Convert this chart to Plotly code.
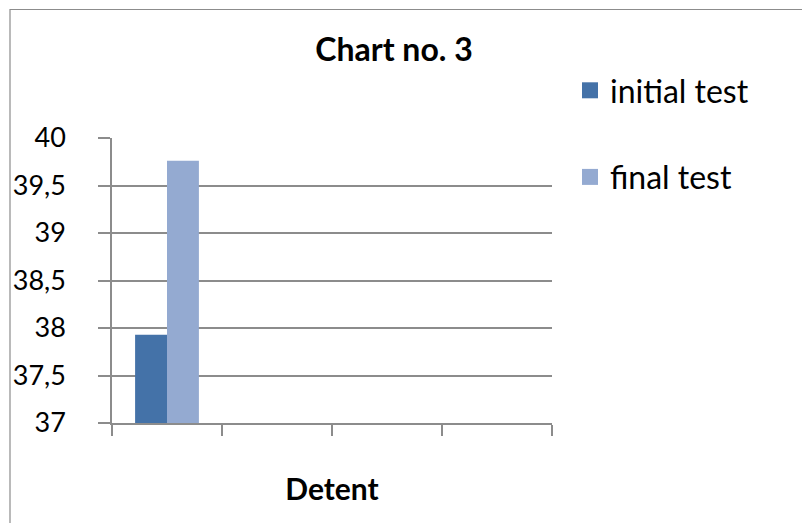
import plotly.graph_objects as go

categories = [1, 2, 3, 4]
series_names = ["initial test", "final test"]
initial_test = [37.93, None, None, None]
final_test = [39.76, None, None, None]
colors = ["#4472A8", "#94AAD1"]
y_ticks = [37, 37.5, 38, 38.5, 39, 39.5, 40]
x_tick_edges = [0.5, 1.5, 2.5, 3.5, 4.5]

FONT = "Lato, Calibri, sans-serif"
GRID = "#8C8C8C"

fig = go.Figure()
for name, vals, col in zip(series_names, [initial_test, final_test], colors):
    fig.add_trace(go.Bar(x=categories, y=vals, name=name, marker=dict(color=col, line=dict(width=0)),
                         showlegend=False))
# legend entries
for i, (name, col) in enumerate(zip(series_names, colors)):
    fig.add_trace(go.Scatter(x=[None], y=[None], mode="markers", name=name,
                             marker=dict(symbol="square", size=16, color=col),
                             legendgroup=f"g{i}", showlegend=True))

fig.update_layout(
    width=802, height=523,
    margin=dict(l=112, r=250, t=138, b=100),
    paper_bgcolor="white", plot_bgcolor="white",
    separators=",.",
    barmode="group", bargap=0.42, bargroupgap=0,
    font=dict(family=FONT, color="black"),
    title=dict(text="<b>Chart no. 3</b>", x=394/802, xanchor="center",
               y=1 - 50/523, yanchor="middle", yref="container",
               font=dict(size=32, family=FONT, color="black")),
    legend=dict(x=(570-112)/440, xanchor="left", y=(423-63)/285, yanchor="top",
                font=dict(size=32, family=FONT, color="black"),
                tracegroupgap=42, bgcolor="rgba(0,0,0,0)"),
    showlegend=True,
    shapes=[dict(type="rect", xref="paper", yref="paper",
                 x0=(10-112)/440, x1=(830-112)/440,
                 y0=(423-560)/285, y1=(423-9.5)/285,
                 line=dict(color="#8C8C8C", width=1.2), layer="below")],
)

fig.update_xaxes(
    range=[0.5, 4.5], tickmode="array", tickvals=x_tick_edges, showticklabels=False,
    ticks="outside", ticklen=11, tickcolor=GRID, tickwidth=1.5,
    showline=True, linecolor=GRID, linewidth=1.5, showgrid=False, zeroline=False,
    title=dict(text="<b>Detent</b>", font=dict(size=30, family=FONT, color="black"), standoff=44),
)
fig.update_yaxes(
    range=[37, 40], tickmode="array", tickvals=y_ticks,
    ticks="outside", ticklen=12, tickcolor=GRID, tickwidth=1.5,
    showline=True, linecolor=GRID, linewidth=1.5,
    showgrid=True, gridcolor=GRID, gridwidth=1.5, zeroline=False,
    tickfont=dict(size=27, family=FONT, color="black"), ticklabelstandoff=27,
)

fig.write_html("out.html")
